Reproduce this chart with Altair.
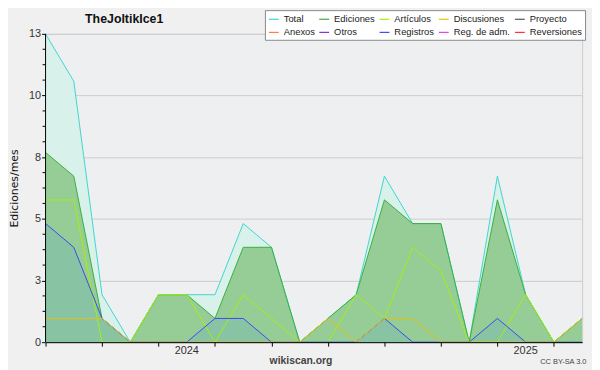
import altair as alt
import pandas as pd
import numpy as np

months = ["2023-08", "2023-09", "2023-10", "2023-11", "2023-12", "2024-01", "2024-02",
          "2024-03", "2024-04", "2024-05", "2024-06", "2024-07", "2024-08", "2024-09",
          "2024-10", "2024-11", "2024-12", "2025-01", "2025-02", "2025-03"]
total = [13, 11, 2, 0, 2, 2, 2, 5, 4, 0, 1, 2, 7, 5, 5, 0, 7, 2, 0, 1]
ediciones = [8, 7, 1, 0, 2, 2, 1, 4, 4, 0, 1, 2, 6, 5, 5, 0, 6, 2, 0, 1]
articulos = [6, 6, 0, 0, 2, 2, 0, 2, 1, 0, 0, 2, 1, 4, 3, 0, 0, 2, 0, 0]
registros = [5, 4, 1, 0, 0, 0, 1, 1, 0, 0, 0, 0, 1, 0, 0, 0, 1, 0, 0, 0]
discusiones = [1, 1, 1, 0, 0, 0, 0, 0, 0, 0, 1, 0, 1, 1, 0, 0, 0, 0, 0, 1]

legend_names = ["Total", "Ediciones", "Artículos", "Discusiones", "Proyecto",
                "Anexos", "Otros", "Registros", "Reg. de adm.", "Reversiones"]
legend_colors = ["#3DD6CC", "#3CAF3C", "#A6EE10", "#E8BE10", "#555555",
                 "#FF7A3A", "#8A2BE2", "#3A4AF0", "#E040FB", "#FF3030"]

y_major = [0, 2.6, 5.2, 7.8, 10.4, 13]
y_minor = [round(v, 2) for v in np.arange(0, 13.001, 0.65) if round(v / 2.6, 3) % 1 != 0]
year_idx = [5, 17]
year_lbl = ["2024", "2025"]

series = {"Total": total, "Ediciones": ediciones, "Artículos": articulos,
          "Registros": registros, "Discusiones": discusiones}
rows = []
for name, vals in series.items():
    for i, (m, v) in enumerate(zip(months, vals)):
        rows.append({"mes": m, "idx": i, "serie": name, "valor": v})
df = pd.DataFrame(rows)

FONT = "Liberation Sans"
W, H = 543, 312

x_enc = alt.X("idx:Q", scale=alt.Scale(domain=[0, len(months) - 1], nice=False, zero=False),
              axis=alt.Axis(values=list(range(len(months))), labels=False,
                            grid=False, domainColor="#000000", tickColor="#000000", tickSize=4,
                            zindex=1,
                            title="wikiscan.org", titleFont=FONT, titleFontSize=10.5,
                            titleFontWeight="bold", titleColor="#444444",
                            titleX=258, titleY=19, titleBaseline="middle"))
y_enc = alt.Y("valor:Q", scale=alt.Scale(domain=[0, 13], nice=False),
              axis=alt.Axis(values=y_major, labelExpr="format(round(datum.value), 'd')",
                            gridColor="#CCCCCC", gridWidth=1, domain=False,
                            tickColor="#000000", tickSize=4, labelFont=FONT, labelFontSize=11,
                            labelColor="#333333", labelPadding=1,
                            title="Ediciones/mes", titleFont="DejaVu Sans", titleFontSize=11,
                            titleFontWeight="normal", titleColor="#111111",
                            titleX=-37, titleY=156, titleAngle=-90, titleBaseline="top"))

base = alt.Chart(df)

area_total = base.transform_filter(alt.datum.serie == "Total").mark_area(
    color="#D9F1EB").encode(x=x_enc, y=y_enc)
area_ed = base.transform_filter(alt.datum.serie == "Ediciones").mark_area(
    color="#96CC96").encode(x="idx:Q", y="valor:Q")
area_reg = base.transform_filter(alt.datum.serie == "Registros").mark_area(
    color="#88C3A3").encode(x="idx:Q", y="valor:Q")

lines = base.mark_line(strokeWidth=1).encode(
    x="idx:Q", y="valor:Q",
    color=alt.Color("serie:N", scale=alt.Scale(domain=legend_names, range=legend_colors),
                    sort=legend_names,
                    legend=alt.Legend(title=None, orient="none", legendX=222, legendY=-24,
                                      columns=5, direction="horizontal",
                                      symbolType="stroke", symbolSize=100,
                                      symbolStrokeWidth=1.2, labelFont=FONT, labelFontSize=9.5,
                                      labelColor="#222222", labelOffset=4, rowPadding=2.5,
                                      columnPadding=1, padding=3, fillColor="#FFFFFF",
                                      strokeColor="#888888", cornerRadius=0, symbolLimit=0,
                                      labelLimit=200)),
    order="idx:Q"
)

y_domain = alt.Chart(pd.DataFrame({"a": [0]})).mark_rule(color="#000000", strokeWidth=1).encode(
    x=alt.value(0), y=alt.value(0), y2=alt.value(H))

minor = alt.Chart(pd.DataFrame({"v": y_minor})).mark_rule(color="#000000", strokeWidth=1).encode(
    y="v:Q", x=alt.value(-3), x2=alt.value(0))

years = alt.Chart(pd.DataFrame({"idx": year_idx, "lbl": year_lbl})).mark_text(
    font=FONT, fontSize=11, color="#333333", align="center", baseline="middle").encode(
    x="idx:Q", text="lbl:N", y=alt.value(H + 9))

cc = alt.Chart(pd.DataFrame({"t": ["CC BY-SA 3.0"]})).mark_text(
    font=FONT, fontSize=7.5, color="#444444", align="center", baseline="middle").encode(
    text="t:N", x=alt.value(524), y=alt.value(H + 20))

ttl = alt.Chart(pd.DataFrame({"t": ["TheJoltikIce1"]})).mark_text(
    font=FONT, fontSize=12.5, fontWeight="bold", color="#111111", align="left",
    baseline="middle").encode(text="t:N", x=alt.value(40), y=alt.value(-15))

chart = alt.layer(area_total, area_ed, area_reg, lines, y_domain, minor, years, cc, ttl).properties(
    width=W, height=H,
    autosize=alt.AutoSizeParams(type="none"),
    padding={"left": 38, "top": 24, "right": 10, "bottom": 26},
    background="#F0F0F0"
).configure_view(fill="#EEEFF1", stroke="#CCCCCC")

chart.save("out.html", embed_options={"renderer": "svg", "actions": False})
